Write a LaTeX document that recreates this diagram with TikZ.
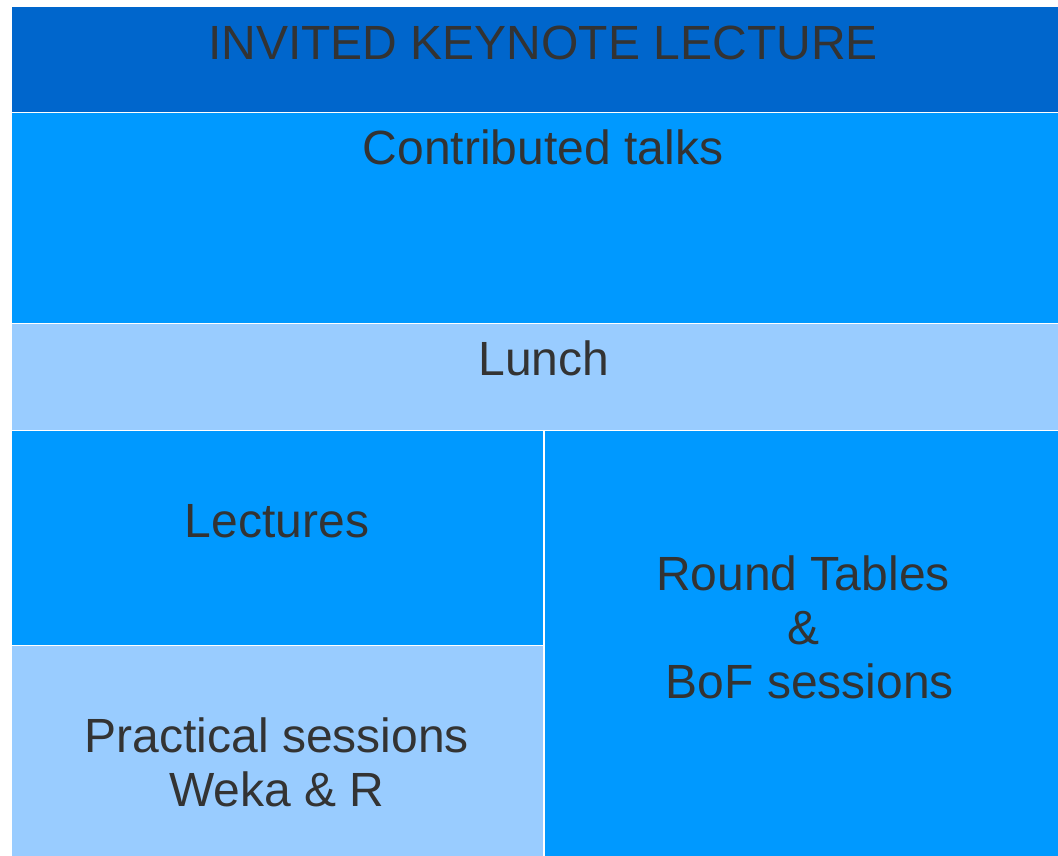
\documentclass[tikz,border=0pt]{standalone}
\usepackage{fontspec}
\setmainfont{Liberation Sans}
\usetikzlibrary{positioning}
\definecolor{keyblue}{HTML}{0066CC}
\definecolor{midblue}{HTML}{0099FF}
\definecolor{paleblue}{HTML}{99CCFF}
\definecolor{darktext}{HTML}{333333}

\begin{document}
\begin{tikzpicture}[x=1pt,y=-1pt,
    block/.style={rectangle,draw=white,line width=1.2pt,inner sep=0pt,anchor=north west},
    label text/.style={anchor=base,inner sep=0pt,text=darktext,font=\fontsize{48}{54}\selectfont}]
  \fill[white] (0,0) rectangle (1058,855);
  \useasboundingbox (0,0) rectangle (1058,855);
  % blocks of the day
  \node[block,fill=keyblue,minimum width=1050pt,minimum height=107pt] (keynote) at (10.4,5.4) {};
  \node[block,fill=midblue,minimum width=1050pt,minimum height=211pt] (talks) at (10.4,112) {};
  \node[block,fill=paleblue,minimum width=1050pt,minimum height=107pt] (lunch) at (10.4,323) {};
  \node[block,fill=midblue,minimum width=533pt,minimum height=217pt] (lectures) at (10.4,430) {};
  \node[block,fill=paleblue,minimum width=533pt,minimum height=214pt] (practical) at (10.4,645) {};
  \node[block,fill=midblue,minimum width=520pt,minimum height=430pt] (round) at (543.4,430) {};
  % texts
  \node[label text] (keytxt) at (543,59) {INVITED KEYNOTE LECTURE};
  \node[label text] (talkstxt) at (543,164) {Contributed talks};
  \node[label text] (lunchtxt) at (544,375) {Lunch};
  \node[label text] (lecttxt) at (277,537) {Lectures};
  \node[label text] (roundtxt) at (803,590) {Round Tables};
  \node[label text] (amptxt) at (803,644) {\&};
  \node[label text] (boftxt) at (810,698) {BoF sessions};
  \node[label text] (practxt) at (277,752) {Practical sessions};
  \node[label text] (wekatxt) at (277,806) {Weka \& R};
\end{tikzpicture}
\end{document}
